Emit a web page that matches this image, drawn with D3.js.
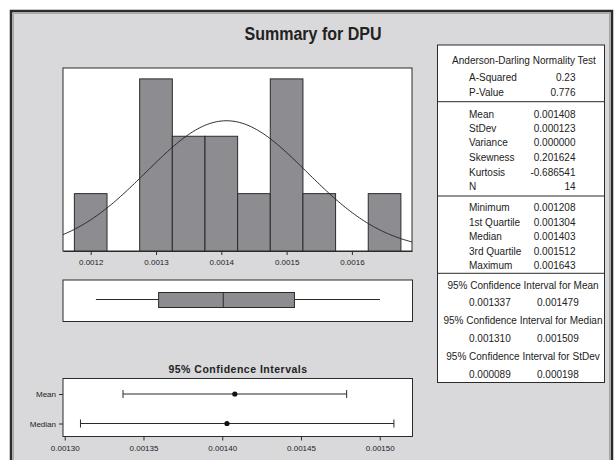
<!DOCTYPE html>
<html><head><meta charset="utf-8">
<script src="https://cdn.jsdelivr.net/npm/d3@7"></script>
<style>body{margin:0;background:#fff}svg{display:block}text{font-family:"Liberation Sans",Arial,sans-serif;fill:#222}</style>
</head><body><svg id="c" width="615" height="460"></svg>
<script>
// ---- data ----
const binStarts = [0.001175,0.001225,0.001275,0.001325,0.001375,0.001425,0.001475,0.001525,0.001575,0.001625];
const binWidth = 0.00005;
const binCounts = [1,0,3,2,2,1,3,1,0,1];
const histTicks = [0.0012,0.0013,0.0014,0.0015,0.0016];
const boxStats = {min:0.001208,q1:0.001304,median:0.001403,q3:0.001512,max:0.001643};
const mean = 0.001408, stdev = 0.000123, nObs = 14;
const ciLabels = ["Mean","Median"];
const ciLow = [0.001337,0.001310];
const ciHigh = [0.001479,0.001509];
const ciPoint = [0.001408,0.001403];
const ciTicks = [0.00130,0.00135,0.00140,0.00145,0.00150];
const adLabels = ["A-Squared","P-Value"];
const adValues = ["0.23","0.776"];
const descLabels = ["Mean","StDev","Variance","Skewness","Kurtosis","N"];
const descValues = ["0.001408","0.000123","0.000000","0.201624","-0.686541","14"];
const quantLabels = ["Minimum","1st Quartile","Median","3rd Quartile","Maximum"];
const quantValues = ["0.001208","0.001304","0.001403","0.001512","0.001643"];
const ciTableTitles = ["95% Confidence Interval for Mean","95% Confidence Interval for Median","95% Confidence Interval for StDev"];
const ciTableLow = ["0.001337","0.001310","0.000089"];
const ciTableHigh = ["0.001479","0.001509","0.000198"];

const svg = d3.select("#c");
const barFill = "#8d8d91", dark = "#2b2b2b";

// frame
svg.append("rect").attr("x",11).attr("y",11).attr("width",601).attr("height",460)
  .attr("fill","#d9d9db").attr("stroke",dark).attr("stroke-width",2.5);
svg.append("rect").attr("x",13.5).attr("y",13.5).attr("width",596).attr("height",460)
  .attr("fill","none").attr("stroke","#a8a8aa").attr("stroke-width",1);

svg.append("text").attr("x",313).attr("y",40).attr("text-anchor","middle")
  .attr("font-size",17.5).attr("font-weight","bold").attr("textLength",137).attr("lengthAdjust","spacingAndGlyphs")
  .text("Summary for DPU");

// histogram
const x = d3.scaleLinear().domain([0.0011576,0.001692]).range([63,412]);
const y = d3.scaleLinear().domain([0,3.19]).range([251,68]);
svg.append("rect").attr("x",63).attr("y",68).attr("width",349).attr("height",183).attr("fill","#fff").attr("stroke",dark);
svg.append("g").selectAll("rect").data(binStarts.map((s,i)=>({s,c:binCounts[i]})).filter(d=>d.c>0))
  .join("rect").attr("x",d=>x(d.s)).attr("width",d=>x(d.s+binWidth)-x(d.s))
  .attr("y",d=>y(d.c)).attr("height",d=>y(0)-y(d.c))
  .attr("fill",barFill).attr("stroke",dark).attr("stroke-width",1);
const curveX = d3.range(0,201).map(i=>x.domain()[0]+(x.domain()[1]-x.domain()[0])*i/200);
const pdf = v => nObs*binWidth*Math.exp(-0.5*((v-mean)/stdev)**2)/(stdev*Math.sqrt(2*Math.PI));
svg.append("path").datum(curveX).attr("fill","none").attr("stroke",dark).attr("stroke-width",1)
  .attr("d",d3.line().x(v=>x(v)).y(v=>y(pdf(v))));
const gx = svg.append("g").attr("transform","translate(0,251)")
  .call(d3.axisBottom(x).tickValues(histTicks).tickFormat(d3.format(".4f")).tickSize(4).tickSizeOuter(0));
gx.select(".domain").attr("stroke",dark);
gx.selectAll("line").attr("stroke",dark);
gx.selectAll("text").attr("font-size",8).attr("fill","#222").attr("dy","0.9em");

// boxplot
svg.append("rect").attr("x",63).attr("y",280).attr("width",349.5).attr("height",41.5).attr("fill","#fff").attr("stroke",dark);
const by = 299.5;
svg.append("line").attr("x1",x(boxStats.min)).attr("x2",x(boxStats.q1)).attr("y1",by).attr("y2",by).attr("stroke",dark);
svg.append("line").attr("x1",x(boxStats.q3)).attr("x2",x(boxStats.max)).attr("y1",by).attr("y2",by).attr("stroke",dark);
svg.append("rect").attr("x",x(boxStats.q1)).attr("y",292.5).attr("width",x(boxStats.q3)-x(boxStats.q1)).attr("height",15)
  .attr("fill",barFill).attr("stroke",dark);
svg.append("line").attr("x1",x(boxStats.median)).attr("x2",x(boxStats.median)).attr("y1",292.5).attr("y2",307.5).attr("stroke",dark);

// CI plot
svg.append("text").attr("x",238).attr("y",372.5).attr("text-anchor","middle").attr("font-size",10.5).attr("font-weight","bold")
  .attr("letter-spacing",0.5).text("95% Confidence Intervals");
const cx = d3.scaleLinear().domain([0.0012989,0.0015208]).range([63,412.5]);
const cy = d3.scalePoint().domain(ciLabels).range([394,423.5]);
svg.append("rect").attr("x",63).attr("y",378.5).attr("width",349.5).attr("height",58).attr("fill","#fff").attr("stroke",dark);
const gcx = svg.append("g").attr("transform","translate(0,436.5)")
  .call(d3.axisBottom(cx).tickValues(ciTicks).tickFormat(d3.format(".5f")).tickSize(4).tickSizeOuter(0));
gcx.select(".domain").remove();
gcx.selectAll("line").attr("stroke",dark);
gcx.selectAll("text").attr("font-size",8).attr("fill","#222").attr("dy","0.9em");
const gcy = svg.append("g").attr("transform","translate(63,0)").call(d3.axisLeft(cy).tickSize(4).tickSizeOuter(0));
gcy.select(".domain").remove();
gcy.selectAll("line").attr("stroke",dark);
gcy.selectAll("text").attr("font-size",8).attr("fill","#222");
ciLabels.forEach((lab,i)=>{
  const yy = cy(lab);
  svg.append("line").attr("x1",cx(ciLow[i])).attr("x2",cx(ciHigh[i])).attr("y1",yy).attr("y2",yy).attr("stroke",dark);
  [ciLow[i],ciHigh[i]].forEach(v=>svg.append("line").attr("x1",cx(v)).attr("x2",cx(v)).attr("y1",yy-4).attr("y2",yy+4).attr("stroke",dark));
  svg.append("circle").attr("cx",cx(ciPoint[i])).attr("cy",yy).attr("r",2.6).attr("fill","#111");
});

// stats table
svg.append("rect").attr("x",437.5).attr("y",45).attr("width",167).attr("height",337.5).attr("fill","#fff").attr("stroke",dark);
[101.7,196,273.3].forEach(yy=>svg.append("line").attr("x1",437.5).attr("x2",604.5).attr("y1",yy).attr("y2",yy).attr("stroke",dark));
const fs = 10;
function tx(xp,yp,t,anchor){svg.append("text").attr("x",xp).attr("y",yp).attr("dy","0.35em").attr("font-size",fs).attr("text-anchor",anchor||"start").text(t);}
tx(524,60,"Anderson-Darling Normality Test","middle");
const adY=[77.3,92.3], descY=[114,128.3,142.7,157.7,172.3,186.7], qY=[207.7,222.7,236.7,251.7,265.7];
adLabels.forEach((l,i)=>{tx(469,adY[i],l);tx(575.5,adY[i],adValues[i],"end");});
descLabels.forEach((l,i)=>{tx(469,descY[i],l);tx(575.5,descY[i],descValues[i],"end");});
quantLabels.forEach((l,i)=>{tx(469,qY[i],l);tx(575.5,qY[i],quantValues[i],"end");});
const ctY=[285,320,356.7], cvY=[302.7,338.3,374.3];
ciTableTitles.forEach((t,i)=>{tx(523,ctY[i],t,"middle");tx(469,cvY[i],ciTableLow[i]);tx(537,cvY[i],ciTableHigh[i]);});
</script></body></html>
